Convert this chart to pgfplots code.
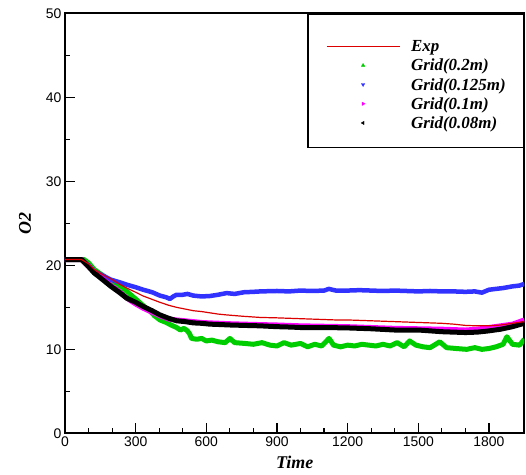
\documentclass[border=0pt]{standalone}
\usepackage{pgfplots}
\pgfplotsset{compat=1.18}
\usepackage{pgfplotstable}
\usepackage{fontspec}
\setmainfont{Liberation Serif}
\setsansfont{Liberation Sans}
\definecolor{expred}{RGB}{220,0,0}
\definecolor{ggreen}{RGB}{0,205,0}
\definecolor{gblue}{RGB}{50,50,255}
\definecolor{gmag}{RGB}{255,0,255}

\pgfplotstableread{
x y
0 20.7
70 20.7
100 20.2
125 19.5
160 18.9
195 18.4
230 17.8
262 17.3
300 16.8
332 16.35
370 15.95
403 15.6
440 15.25
474 15.0
510 14.8
545 14.6
580 14.5
615 14.35
650 14.2
686 14.1
750 13.95
828 13.8
900 13.75
1000 13.65
1050 13.6
1100 13.55
1150 13.5
1200 13.5
1250 13.45
1300 13.4
1350 13.35
1400 13.3
1450 13.25
1500 13.2
1550 13.15
1600 13.1
1650 13.0
1700 12.85
1750 12.8
1800 12.8
1850 12.9
1900 13.1
1950 13.3
}\expdata

\pgfplotstableread{
x y
0 20.7
80 20.7
100 20.3
124 19.5
160 18.8
195 18.1
230 17.5
262 16.9
300 16.0
332 15.2
360 14.6
380 14.0
403 13.5
430 13.2
450 12.9
474 12.6
490 12.3
505 12.5
520 12.2
530 11.8
537 11.3
560 11.2
580 11.3
600 11.0
623 11.1
650 10.9
680 10.8
700 11.3
720 10.8
765 10.7
800 10.6
836 10.8
870 10.5
900 10.4
930 10.8
960 10.5
1000 10.7
1030 10.3
1060 10.6
1090 10.4
1121 11.3
1140 10.5
1170 10.3
1200 10.5
1230 10.4
1260 10.6
1290 10.5
1320 10.4
1350 10.6
1380 10.4
1410 10.8
1440 10.3
1463 11.0
1490 10.5
1520 10.3
1550 10.2
1591 10.9
1620 10.2
1660 10.1
1705 10.0
1740 10.2
1770 10.0
1800 10.1
1830 10.3
1860 10.6
1876 11.5
1900 10.6
1930 10.5
1950 11.2
}\greendata

\pgfplotstableread{
x y
0 20.7
70 20.7
100 20.0
124 19.3
160 18.8
195 18.3
230 18.0
262 17.7
300 17.4
332 17.1
370 16.8
403 16.4
430 16.2
445 16.0
460 16.3
474 16.5
500 16.5
520 16.6
545 16.4
580 16.3
615 16.35
650 16.5
686 16.7
720 16.6
760 16.8
800 16.85
830 16.9
900 16.95
950 16.9
1000 17.0
1050 16.95
1100 17.0
1120 17.2
1150 17.0
1200 17.0
1250 17.05
1300 17.0
1350 16.95
1400 17.0
1450 16.95
1500 16.9
1550 16.95
1600 16.9
1650 16.9
1700 16.85
1740 16.9
1770 16.75
1800 17.1
1830 17.2
1860 17.3
1900 17.5
1930 17.6
1950 17.8
}\bluedata

\pgfplotstableread{
x y
0 20.7
70 20.7
95 20.0
124 19.2
160 18.4
195 17.6
230 16.9
262 16.1
300 15.4
332 14.9
370 14.4
403 14.0
440 13.6
474 13.5
510 13.4
545 13.3
580 13.2
615 13.15
660 13.1
700 13.05
760 13.0
828 12.95
900 12.9
1000 12.8
1100 12.75
1200 12.7
1300 12.6
1400 12.5
1500 12.45
1600 12.4
1650 12.35
1700 12.3
1750 12.4
1800 12.6
1850 12.8
1900 13.0
1950 13.5
}\magdata

\pgfplotstableread{
x y
0 20.7
70 20.7
95 20.0
124 19.1
160 18.3
195 17.5
230 16.8
262 16.1
300 15.6
332 15.1
370 14.6
403 14.1
440 13.7
474 13.4
510 13.3
545 13.15
580 13.1
615 13.0
660 12.95
700 12.9
760 12.85
828 12.8
900 12.7
960 12.65
1000 12.6
1100 12.6
1200 12.55
1300 12.45
1400 12.3
1500 12.3
1550 12.2
1600 12.1
1650 12.05
1700 12.0
1750 12.05
1800 12.2
1850 12.4
1900 12.7
1950 13.1
}\blackdata

\begin{document}
\begin{tikzpicture}
\useasboundingbox (-65bp,-41.7bp) rectangle (461bp,433.3bp);
\begin{axis}[
  at={(0,0)}, anchor=south west,
  scale only axis,
  width=459.3bp, height=419.8bp,
  xmin=0, xmax=1950, ymin=0, ymax=50,
  xtick={0,300,...,1800},
  ytick={0,10,...,50},
  minor x tick num=2,
  minor y tick num=1,
  tick align=inside,
  xtick pos=bottom, ytick pos=left,
  major tick length=10bp,
  minor tick length=5.5bp,
  every tick/.style={line width=1.2bp, black},
  axis line style={line width=2bp},
  /pgf/number format/assume math mode=true,
  /pgf/number format/1000 sep={},
  tick label style={font=\sffamily\fontsize{14}{16}\selectfont},
  xlabel={Time}, ylabel={O2},
  xlabel style={at={(axis description cs:0.5,-0.069)}, anchor=center, font=\bfseries\itshape\fontsize{18}{20}\selectfont},
  ylabel style={at={(axis description cs:-0.087,0.5)}, anchor=center, font=\bfseries\itshape\fontsize{18}{20}\selectfont},
  legend style={at={(1,1)}, anchor=north east, draw=black, line width=1.3bp, fill=white,
    font=\bfseries\itshape\fontsize{17}{18}\selectfont,
    inner xsep=18bp, inner ysep=18bp, row sep=-1.3bp, column sep=11bp,
    nodes={inner sep=0pt, text height=19.5bp, text depth=1bp}},
  legend cell align=left,
  legend image code/.code={\draw[mark repeat=2,mark phase=2,#1] plot coordinates {(0bp,-3.75bp)(36.5bp,-3.75bp)(73bp,-3.75bp)};},
]
\addlegendimage{expred, line width=1bp}
\addlegendimage{only marks, mark=triangle*, mark size=2bp, color=ggreen, mark options={line width=0.3bp}}
\addlegendimage{only marks, mark=triangle*, mark size=2bp, color=gblue, mark options={rotate=180, line width=0.3bp}}
\addlegendimage{only marks, mark=triangle*, mark size=2bp, color=gmag, mark options={rotate=-90, line width=0.3bp}}
\addlegendimage{only marks, mark=triangle*, mark size=2bp, color=black, mark options={rotate=90, line width=0.3bp}}

\addplot[ggreen, line width=5bp, line join=round, forget plot] table {\greendata};
\addplot[gblue, line width=4.5bp, line join=round, forget plot] table {\bluedata};
\addplot[gmag, line width=5bp, line join=round, forget plot] table {\magdata};
\addplot[black, line width=5bp, line join=round, forget plot] table {\blackdata};
\addplot[expred, line width=1.2bp, forget plot] table {\expdata};

\legend{Exp, Grid(0.2m), Grid(0.125m), Grid(0.1m), Grid(0.08m)}
\end{axis}
\end{tikzpicture}
\end{document}
